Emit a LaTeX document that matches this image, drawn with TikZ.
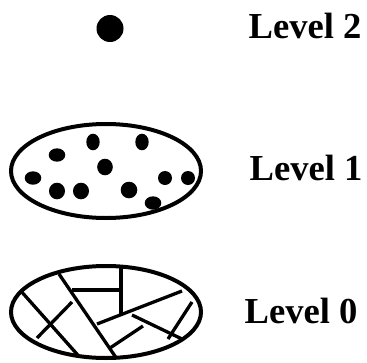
\documentclass[tikz,border=0pt]{standalone}
\usepackage{fontspec}
\setmainfont{Liberation Serif}
\begin{document}
\begin{tikzpicture}[x=1pt,y=-1pt,line width=3.3pt]
\tikzset{lvl/.style={anchor=base west,inner sep=0pt,font=\fontsize{36.6}{40}\selectfont\bfseries}}
\useasboundingbox (0,0) rectangle (367,362);
% level 2
\fill (110,28.5) circle [radius=13.5];\node[lvl] (lvl2) at (247,38) {Level 2};
% level 1
\draw[line width=4pt] (106,171) ellipse [x radius=95,y radius=47];
\foreach \px/\py/\rx/\ry in {93/142/6.7/8.3,142/142/6.7/8.3,57/155/8.3/6.7,105/167/7.8/8.3,33/178/8.3/6.7,57/191/8/8.3,81/191/8/8.3,129/190/8.3/8.3,165/178/7/7,188/178/7/7,153/203/8.3/6.7}
  \fill (\px,\py) ellipse [x radius=\rx,y radius=\ry];
\node[lvl] (lvl1) at (248,180) {Level 1};
% level 0
\draw[line width=4pt] (106,312) ellipse [x radius=95,y radius=46];
\begin{scope}
\clip (106,312) ellipse [x radius=95,y radius=46];
\draw (20,290)--(84,362);\draw (37,338)--(72,302);
\draw (59,274)--(119,362);\draw (72,290)--(121,290);\draw (121,262)--(121,314);
\draw (97,324)--(182,291);\draw (110,348)--(143,326);\draw (132,315)--(182,339);\draw (168,339)--(192,302);
\end{scope}
\node[lvl] (lvl0) at (243,323) {Level 0};
\end{tikzpicture}
\end{document}
